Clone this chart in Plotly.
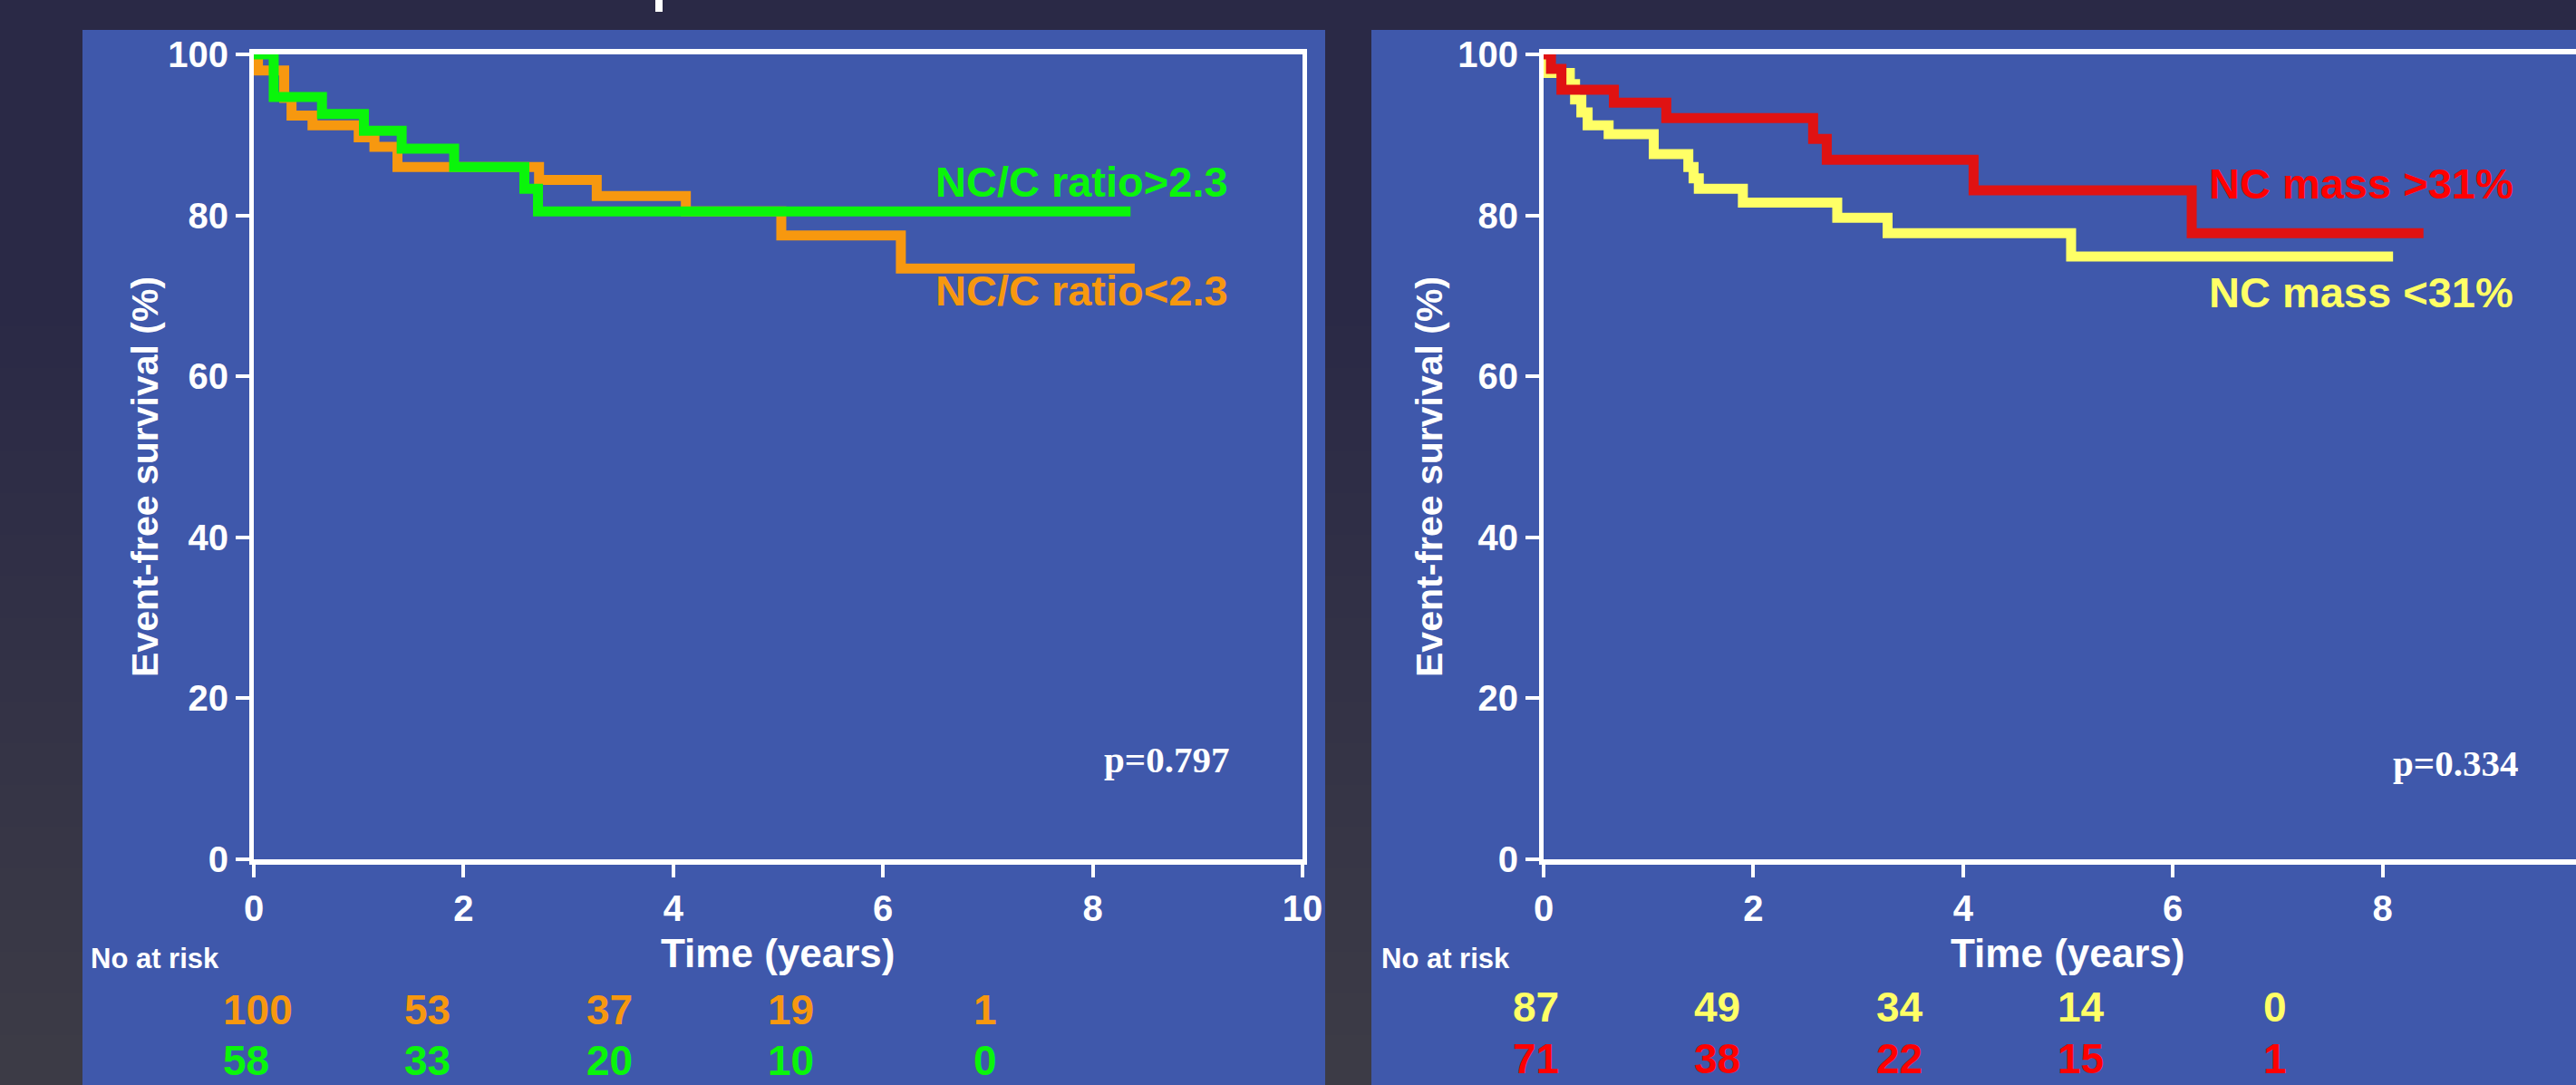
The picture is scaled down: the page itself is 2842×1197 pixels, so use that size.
import plotly.graph_objects as go

W, H = 2842, 1197

# ---------------- data ----------------
# Left panel: NC/C ratio
t_ratio_low = [0, 0.04, 0.29, 0.36, 0.56, 1.00, 1.15, 1.37, 2.72, 3.27, 4.12, 5.03, 6.17, 8.40]
s_ratio_low = [100, 98.0, 94.6, 92.4, 91.2, 89.7, 88.5, 86.0, 84.4, 82.4, 80.5, 77.5, 73.4, 73.4]
t_ratio_high = [0, 0.19, 0.65, 1.05, 1.41, 1.91, 2.58, 2.71, 8.36]
s_ratio_high = [100, 94.7, 92.6, 90.5, 88.3, 86.0, 83.3, 80.5, 80.5]

# Right panel: NC mass
t_mass_low = [0, 0.04, 0.25, 0.30, 0.36, 0.42, 0.62, 1.05, 1.38, 1.43, 1.48, 1.90, 2.80, 3.28, 5.03, 8.10]
s_mass_low = [100, 97.7, 96.3, 94.4, 92.8, 91.2, 90.1, 87.6, 86.0, 84.6, 83.3, 81.6, 79.7, 77.8, 74.9, 74.9]
t_mass_high = [0, 0.07, 0.17, 0.67, 1.17, 2.57, 2.70, 4.10, 6.18, 8.39]
s_mass_high = [100, 98.2, 95.6, 94.0, 92.1, 89.5, 86.9, 83.1, 77.8, 77.8]

x_ticks_left = [0, 2, 4, 6, 8, 10]
x_ticks_right = [0, 2, 4, 6, 8]
y_ticks = [0, 20, 40, 60, 80, 100]

risk_ratio_low = ["100", "53", "37", "19", "1"]
risk_ratio_high = ["58", "33", "20", "10", "0"]
risk_mass_low = ["87", "49", "34", "14", "0"]
risk_mass_high = ["71", "38", "22", "15", "1"]

label_ratio_high = "NC/C ratio>2.3"
label_ratio_low = "NC/C ratio<2.3"
label_mass_high = "NC mass >31%"
label_mass_low = "NC mass <31%"
p_left = "p=0.797"
p_right = "p=0.334"

# ---------------- style ----------------
DARK = "#2a2946"
BLUE = "#3f58ab"
ORANGE = "#f7980f"
GREEN = "#0af50a"
RED_LINE = "#e01212"
RED_TXT = "#ff0000"
YELLOW = "#ffff66"
WHITE = "#ffffff"
SANS = "Liberation Sans"
SERIF = "Liberation Serif"

X0_LEFT, X0_RIGHT, PX_PER_YEAR = 280, 1703, 115.7


def px(x):
    return x / W


def py(y):
    return 1 - y / H


# left edges of the at-risk columns, in pixels from each panel's time origin
risk_offsets = [-36, 164, 365, 565, 792]

fig = go.Figure()
line_w = 11
fig.add_trace(go.Scatter(x=t_ratio_low, y=s_ratio_low, mode="lines",
                         line=dict(color=ORANGE, width=line_w, shape="hv"), xaxis="x", yaxis="y"))
fig.add_trace(go.Scatter(x=t_ratio_high, y=s_ratio_high, mode="lines",
                         line=dict(color=GREEN, width=line_w, shape="hv"), xaxis="x", yaxis="y"))
fig.add_trace(go.Scatter(x=t_mass_low, y=s_mass_low, mode="lines",
                         line=dict(color=YELLOW, width=line_w, shape="hv"), xaxis="x2", yaxis="y2"))
fig.add_trace(go.Scatter(x=t_mass_high, y=s_mass_high, mode="lines",
                         line=dict(color=RED_LINE, width=line_w, shape="hv"), xaxis="x2", yaxis="y2"))

tickfont = dict(family=SANS, size=40, color=WHITE, weight="bold")
ydom = [py(948), py(60)]
common = dict(showgrid=False, zeroline=False, showline=True, linecolor=WHITE, automargin=False,
              ticks="outside", tickcolor=WHITE, tickwidth=4, tickfont=tickfont)

fig.update_layout(
    width=W, height=H, margin=dict(l=0, r=0, t=0, b=0, pad=0, autoexpand=False),
    paper_bgcolor=DARK, plot_bgcolor="rgba(0,0,0,0)", showlegend=False,
    xaxis=dict(domain=[px(X0_LEFT), px(X0_LEFT + 10 * PX_PER_YEAR)], range=[0, 10], tickvals=x_ticks_left,
               linewidth=6, mirror=True, ticklen=14, anchor="y", **common),
    yaxis=dict(domain=ydom, range=[0, 100], tickvals=y_ticks,
               linewidth=5, mirror=True, ticklen=15, anchor="x", **common),
    xaxis2=dict(domain=[px(X0_RIGHT), 1], range=[0, (W - X0_RIGHT) / PX_PER_YEAR], tickvals=x_ticks_right,
                linewidth=6, mirror=True, ticklen=14, anchor="y2", **common),
    yaxis2=dict(domain=ydom, range=[0, 100], tickvals=y_ticks,
                linewidth=5, mirror=False, ticklen=15, anchor="x2", **common),
)

shapes = []
# soft lighter haze in the dark margins toward the bottom (layered gradient)
for k in range(18):
    y0 = 360 + k * 46
    shapes.append(dict(type="rect", xref="paper", yref="paper", x0=0, x1=1,
                       y0=0, y1=py(y0), fillcolor="rgba(110,110,140,0.016)",
                       line=dict(width=0), layer="below"))
# blue slide panels
shapes.append(dict(type="rect", xref="paper", yref="paper", x0=px(91), x1=px(1462),
                   y0=0, y1=py(33), fillcolor=BLUE, line=dict(width=0), layer="below"))
shapes.append(dict(type="rect", xref="paper", yref="paper", x0=px(1513), x1=1,
                   y0=0, y1=py(33), fillcolor=BLUE, line=dict(width=0), layer="below"))
# cut-off fragment of the slide title above
shapes.append(dict(type="rect", xref="paper", yref="paper", x0=px(723), x1=px(731),
                   y0=py(13), y1=1, fillcolor=WHITE, line=dict(width=0), layer="below"))
fig.update_layout(shapes=shapes)

ann = []


def text(x, y, s, size, color, xanchor="center", angle=0, family=SANS):
    ann.append(dict(x=x, y=y, xref="paper", yref="paper", text=s, showarrow=False,
                    xanchor=xanchor, yanchor="middle", textangle=angle,
                    font=dict(family=family, size=size, color=color, weight="bold")))


# axis titles
text(px(160), py(526), "Event-free survival (%)", 41, WHITE, angle=-90)
text(px(1577), py(526), "Event-free survival (%)", 41, WHITE, angle=-90)
text(px(858), py(1051), "Time (years)", 44, WHITE)
text(px(2281), py(1051), "Time (years)", 44, WHITE)

# group labels
text(px(1030), py(200), label_ratio_high, 47, GREEN, xanchor="left")
text(px(1030), py(320), label_ratio_low, 47, ORANGE, xanchor="left")
text(px(2435), py(202), label_mass_high, 47, RED_TXT, xanchor="left")
text(px(2435), py(322), label_mass_low, 47, YELLOW, xanchor="left")

# p values
text(px(1216), py(838), p_left, 41, WHITE, xanchor="left", family=SERIF)
text(px(2638), py(842), p_right, 41, WHITE, xanchor="left", family=SERIF)

# numbers at risk
text(px(98), py(1057), "No at risk", 31, WHITE, xanchor="left")
text(px(1522), py(1057), "No at risk", 31, WHITE, xanchor="left")
for i, off in enumerate(risk_offsets):
    text(px(X0_LEFT + off), py(1114), risk_ratio_low[i], 46, ORANGE, xanchor="left")
    text(px(X0_LEFT + off), py(1170), risk_ratio_high[i], 46, GREEN, xanchor="left")
    text(px(X0_RIGHT + off), py(1111), risk_mass_low[i], 46, YELLOW, xanchor="left")
    text(px(X0_RIGHT + off), py(1168), risk_mass_high[i], 46, RED_TXT, xanchor="left")

fig.update_layout(annotations=ann)
# the page's default 8px body margin would shift the figure; remove it
fig.write_html("out.html", config={"displayModeBar": False},
               post_script="document.body.style.margin='0';")
